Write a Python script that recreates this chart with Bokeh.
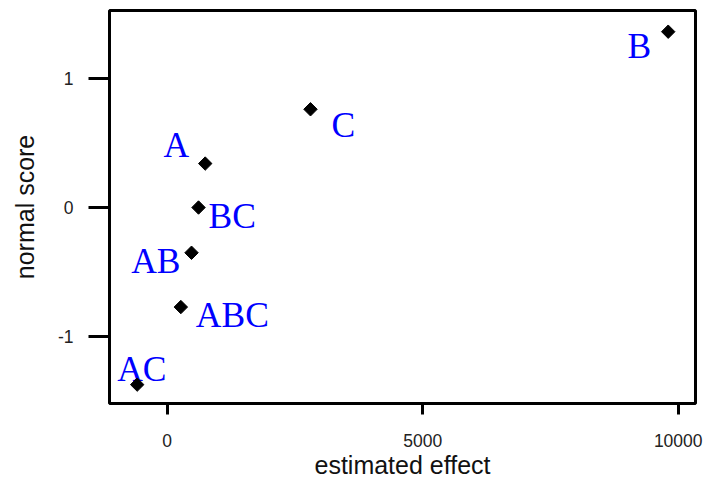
import math
from bokeh.plotting import figure
from bokeh.models import ColumnDataSource, FixedTicker, Range1d
from bokeh.core.properties import value
from bokeh.embed import file_html
from bokeh.resources import INLINE

# ---- data ----
effect_names = ["B", "C", "A", "BC", "AB", "ABC", "AC"]
estimated_effect = [9804, 2804, 744, 613, 476, 267, -587]
normal_score = [1.36, 0.76, 0.34, 0.0, -0.35, -0.77, -1.37]
x_ticks = [0, 5000, 10000]
y_ticks = [-1, 0, 1]
y_tick_labels = ["-1", "0", "1"]

# ---- label layout (screen px offsets, y down) ----
label_align = ["right", "left", "right", "left", "right", "left", "left"]
label_dx = [-17, 21, -16, 10, -11, 15, -20]
label_dy = [14, 16, -19, 8, 8, 8, -16]

src = ColumnDataSource(dict(x=estimated_effect, y=normal_score, name=effect_names,
                            align=label_align, dx=label_dx, dy=label_dy))

p = figure(width=706, height=483, output_backend="svg", toolbar_location=None,
           x_range=Range1d(-1129, 10338), y_range=Range1d(-1.516, 1.524),
           min_border_left=109, min_border_right=11, min_border_top=10, min_border_bottom=80)

p.background_fill_color = "white"
p.border_fill_color = "white"
p.grid.visible = False
p.outline_line_color = "black"
p.outline_line_width = 3
p.outline_line_alpha = 1.0

p.text(x="x", y="y", text="name", source=src, text_align="align",
       x_offset="dx", y_offset="dy", text_baseline="alphabetic",
       text_font=value("Liberation Serif"), text_font_size="35.5px", text_color="#0000FF")

p.scatter(x="x", y="y", source=src, marker="square", size=9.5, angle=math.pi / 4,
          fill_color="black", line_color="black")

for ax, ticks in ((p.xaxis[0], x_ticks), (p.yaxis[0], y_ticks)):
    ax.ticker = FixedTicker(ticks=ticks)
    ax.minor_tick_line_color = None
    ax.axis_line_color = None
    ax.major_tick_in = 0
    ax.major_tick_line_width = 3
    ax.major_tick_line_color = "black"
    ax.major_label_text_font = "Liberation Sans"
    ax.major_label_text_font_size = "17.5px"
    ax.major_label_text_color = "#222222"
    ax.axis_label_text_font = "Liberation Sans"
    ax.axis_label_text_font_size = "25px"
    ax.axis_label_text_font_style = "normal"
    ax.axis_label_text_color = "#111111"

p.yaxis.major_label_overrides = {t: s for t, s in zip(y_ticks, y_tick_labels)}

p.xaxis.major_tick_out = 11
p.xaxis.major_label_standoff = 19
p.xaxis.axis_label = "estimated effect"
p.xaxis.axis_label_standoff = 1

p.yaxis.major_tick_out = 21
p.yaxis.major_label_standoff = 15
p.yaxis.axis_label = "normal score"
p.yaxis.axis_label_standoff = 16

open("out.html", "w").write(file_html(p, INLINE))
